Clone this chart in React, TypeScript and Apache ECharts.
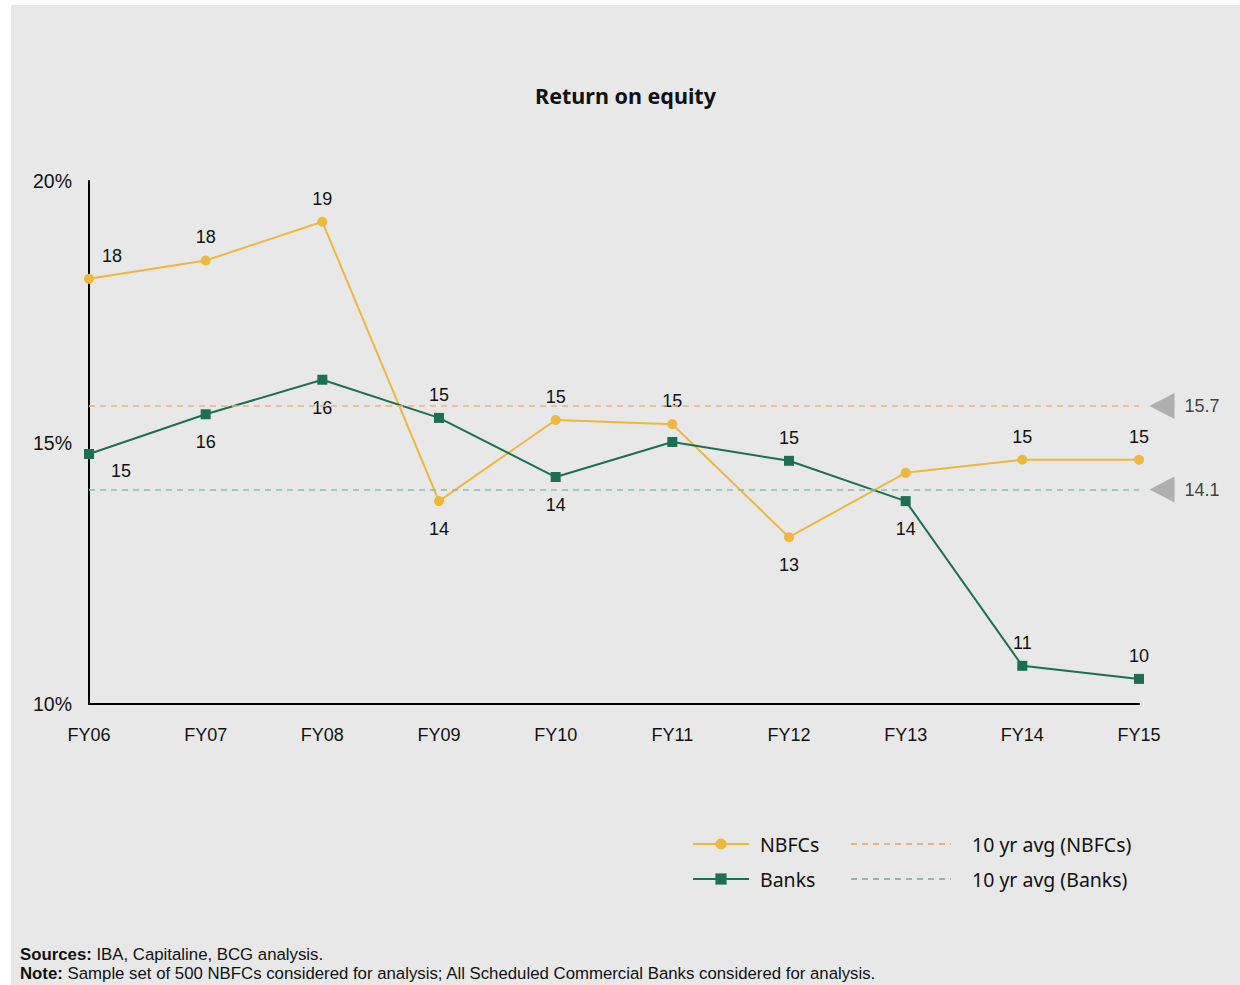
import React, { useEffect, useRef } from "react";
import * as echarts from "echarts";

const categories = ["FY06", "FY07", "FY08", "FY09", "FY10", "FY11", "FY12", "FY13", "FY14", "FY15"];
const nbfcValues = [18.13, 18.48, 19.22, 13.88, 15.43, 15.35, 13.19, 14.42, 14.67, 14.67];
const bankValues = [14.78, 15.54, 16.2, 15.47, 14.34, 15.01, 14.65, 13.88, 10.73, 10.48];
const nbfcAvg = 15.7;
const bankAvg = 14.1;
const yTicks = { min: 10, max: 20, interval: 5 };

// label placement per point (layout only)
const nbfcLabelPlace = ["topright", "top", "top", "bottom", "top", "top", "bottom", "none", "top", "top"];
const bankLabelPlace = ["bottomright", "bottom", "bottom", "top", "bottom", "none", "top", "bottom", "top", "top"];

const YELLOW = "#EFB73C";
const GREEN = "#1B6F52";
const YELLOW_DASH = "#EDB27C";
const GREEN_DASH = "#8CBBA6";
const TEXT = "#111111";
const LABEL_FONT = "Liberation Sans";
const UI_FONT = "Noto Sans";

function labelFor(place: string) {
  const base = { fontSize: 18, color: TEXT, fontFamily: LABEL_FONT };
  if (place === "none") return { show: false };
  if (place === "top") return { ...base, show: true, position: "top", distance: 9 };
  if (place === "bottom") return { ...base, show: true, position: "bottom", distance: 14 };
  if (place === "topright")
    return { ...base, show: true, position: [28, -18], align: "center", verticalAlign: "middle" };
  if (place === "bottomright")
    return { ...base, show: true, position: [37, 22], align: "center", verticalAlign: "middle" };
  return { show: false };
}

function buildData(values: number[], places: string[]) {
  return values.map((v, i) => ({ value: v, label: labelFor(places[i]) }));
}

function footLine(text: string, y: number) {
  return {
    type: "text",
    x: 9,
    y,
    style: {
      text,
      fontSize: 16.8,
      fontFamily: LABEL_FONT,
      fill: TEXT,
      lineHeight: 17,
      verticalAlign: "middle",
      rich: {
        b: { fontSize: 16.8, fontFamily: LABEL_FONT, fontWeight: "bold", fill: TEXT, lineHeight: 17 },
      },
    },
  };
}

export default function App() {
  const ref = useRef<HTMLDivElement>(null);
  useEffect(() => {
    document.body.style.margin = "0";
    if (!ref.current) return;
    const chart = echarts.init(ref.current, undefined, { renderer: "svg" });
    const last = categories[categories.length - 1];
    const fmt = (p: any) => Number(p.value).toFixed(0);
    chart.setOption({
      animation: false,
      backgroundColor: "#e8e8e8",
      title: {
        text: "Return on equity",
        left: "center",
        top: 74,
        textStyle: { fontSize: 21.5, fontWeight: "bold", color: TEXT, fontFamily: UI_FONT },
      },
      grid: { left: 78, right: 101, top: 176, bottom: 281, containLabel: false },
      xAxis: {
        type: "category",
        data: categories,
        boundaryGap: false,
        axisLine: { lineStyle: { color: "#000", width: 2 } },
        axisTick: { show: false },
        axisLabel: { fontSize: 18, color: TEXT, fontFamily: LABEL_FONT, margin: 22 },
        splitLine: { show: false },
      },
      yAxis: {
        type: "value",
        min: yTicks.min,
        max: yTicks.max,
        interval: yTicks.interval,
        axisLine: { show: true, lineStyle: { color: "#000", width: 2 } },
        axisTick: { show: false },
        splitLine: { show: false },
        axisLabel: { fontSize: 19.5, color: TEXT, fontFamily: LABEL_FONT, margin: 17, formatter: "{value}%" },
      },
      legend: [
        {
          data: ["NBFCs", "Banks"],
          orient: "vertical",
          left: 676,
          top: 824,
          itemWidth: 56,
          itemHeight: 14,
          itemGap: 15,
          textStyle: { fontSize: 19.5, color: TEXT, fontFamily: UI_FONT, padding: [0, 0, 0, 6] },
        },
        {
          data: ["10 yr avg (NBFCs)", "10 yr avg (Banks)"],
          orient: "vertical",
          left: 834,
          top: 824,
          itemWidth: 100,
          itemHeight: 14,
          itemGap: 15,
          itemStyle: { opacity: 0 },
          textStyle: { fontSize: 19.5, color: TEXT, fontFamily: UI_FONT, padding: [0, 0, 0, 16] },
        },
      ],
      series: [
        {
          name: "10 yr avg (NBFCs)",
          type: "line",
          data: [],
          symbol: "none",
          showSymbol: false,
          color: YELLOW_DASH,
          lineStyle: { type: [6, 5], width: 1.5, color: YELLOW_DASH },
          markLine: {
            silent: true,
            symbol: "none",
            label: { show: false },
            lineStyle: { type: [6, 5], width: 1.5, color: YELLOW_DASH },
            data: [{ yAxis: nbfcAvg }],
          },
        },
        {
          name: "10 yr avg (Banks)",
          type: "line",
          data: [],
          symbol: "none",
          showSymbol: false,
          color: GREEN_DASH,
          lineStyle: { type: [6, 5], width: 1.5, color: GREEN_DASH },
          markLine: {
            silent: true,
            symbol: "none",
            label: { show: false },
            lineStyle: { type: [6, 5], width: 1.5, color: GREEN_DASH },
            data: [{ yAxis: bankAvg }],
          },
        },
        {
          name: "NBFCs",
          type: "line",
          data: buildData(nbfcValues, nbfcLabelPlace),
          symbol: "circle",
          symbolSize: 10,
          color: YELLOW,
          lineStyle: { width: 2, color: YELLOW },
          label: { formatter: fmt },
          z: 3,
        },
        {
          name: "Banks",
          type: "line",
          data: buildData(bankValues, bankLabelPlace),
          symbol: "rect",
          symbolSize: 10,
          color: GREEN,
          lineStyle: { width: 2, color: GREEN },
          label: { formatter: fmt },
          z: 4,
        },
        {
          name: "avgMarkers",
          type: "scatter",
          data: [
            [last, nbfcAvg],
            [last, bankAvg],
          ],
          symbol: "path://M0 13L25 0L25 26Z",
          symbolSize: [25, 26],
          symbolOffset: [23, 0],
          itemStyle: { color: "#a0a0a0" },
          label: {
            show: true,
            position: "right",
            distance: 10,
            fontSize: 18,
            color: TEXT,
            fontFamily: LABEL_FONT,
            formatter: (p: any) => Number(p.value[1]).toFixed(1),
          },
          z: 5,
        },
      ],
      graphic: [
        footLine("{b|Sources:} IBA, Capitaline, BCG analysis.", 949.5),
        footLine(
          "{b|Note:} Sample set of 500 NBFCs considered for analysis; All Scheduled Commercial Banks considered for analysis.",
          968.5
        ),
      ],
    });
    return () => chart.dispose();
  }, []);
  return (
    <div style={{ width: 1240, height: 985, background: "#ffffff", position: "relative" }}>
      <div
        ref={ref}
        style={{ position: "absolute", left: 11, top: 5, width: 1229, height: 980 }}
      />
    </div>
  );
}
